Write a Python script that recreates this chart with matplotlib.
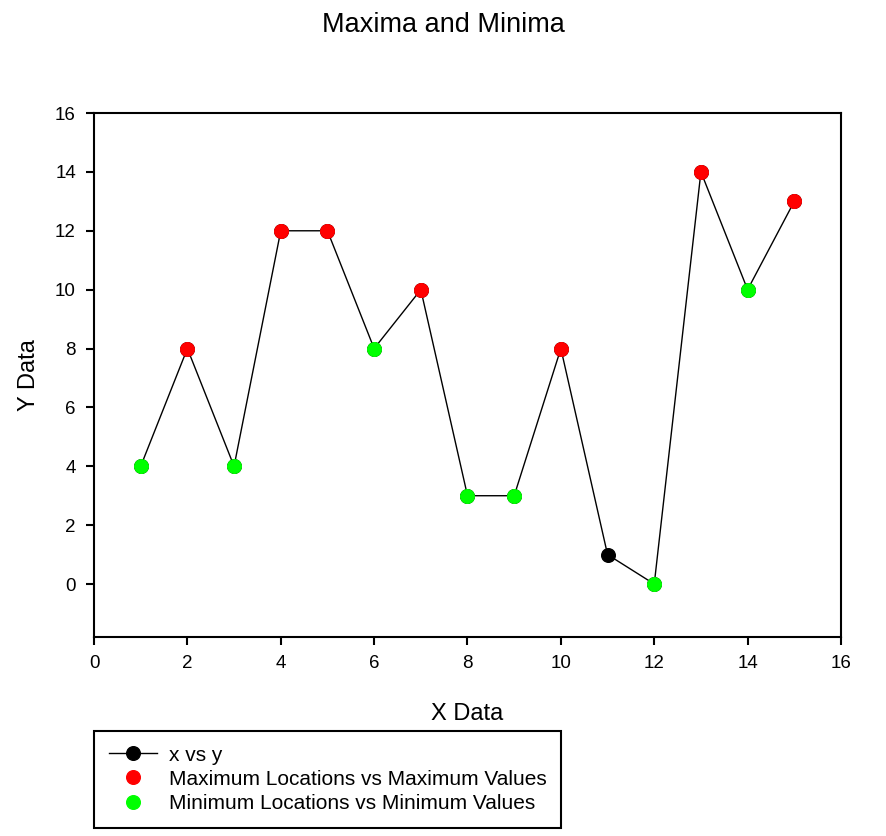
import matplotlib.pyplot as plt
from matplotlib.lines import Line2D

plt.rcParams["font.family"] = ["Liberation Sans", "DejaVu Sans"]

# ---------- data ----------
x = [1, 2, 3, 4, 5, 6, 7, 8, 9, 10, 11, 12, 13, 14, 15]
y = [4, 8, 4, 12, 12, 8, 10, 3, 3, 8, 1, 0, 14, 10, 13]

max_x = [2, 4, 5, 7, 10, 13, 15]
max_y = [8, 12, 12, 10, 8, 14, 13]

min_x = [1, 3, 6, 8, 9, 12, 14]
min_y = [4, 4, 8, 3, 3, 0, 10]

# ---------- plot ----------
fig = plt.figure(figsize=(8.86, 8.36), dpi=100)
ax = fig.add_axes([0.1061, 0.2380, 0.8431, 0.6268])

ms = 9.8
ax.plot(x, y, color="black", lw=1, marker="o", ms=ms, mfc="black", mec="black",
        label="x vs y")
ax.plot(max_x, max_y, ls="none", marker="o", ms=ms, mfc="#ff0000", mec="#ff0000",
        label="Maximum Locations vs Maximum Values")
ax.plot(min_x, min_y, ls="none", marker="o", ms=ms, mfc="#00ff00", mec="#00ff00",
        label="Minimum Locations vs Minimum Values")

ax.set_xlim(0, 16)
ax.set_ylim(-1.8, 16)
ax.set_xticks(range(0, 17, 2))
ax.set_yticks(range(0, 17, 2))
ax.tick_params(direction="out", length=6, width=1.5, labelsize=13.5, pad=7,
               top=False, right=False)
for s in ax.spines.values():
    s.set_linewidth(1.5)

ax.set_xlabel("X Data", fontsize=17, labelpad=22)
ax.set_ylabel("Y Data", fontsize=17, labelpad=11)
fig.suptitle("Maxima and Minima", fontsize=19.5, y=0.986)

handles = [
    Line2D([], [], color="black", lw=1, marker="o", ms=ms, mfc="black", mec="black"),
    Line2D([], [], ls="none", marker="o", ms=ms, mfc="#ff0000", mec="#ff0000"),
    Line2D([], [], ls="none", marker="o", ms=ms, mfc="#00ff00", mec="#00ff00"),
]
labels = ["x vs y", "Maximum Locations vs Maximum Values", "Minimum Locations vs Minimum Values"]
leg = fig.legend(handles, labels, loc="upper left", bbox_to_anchor=(0.1061, 0.1256),
                 bbox_transform=fig.transFigure, fontsize=15, frameon=True,
                 fancybox=False, edgecolor="black", framealpha=1, borderpad=0.7,
                 labelspacing=0.25, handlelength=2.3, handletextpad=0.6,
                 borderaxespad=0)
leg.get_frame().set_linewidth(1.5)

fig.savefig("out.png", dpi=100)
